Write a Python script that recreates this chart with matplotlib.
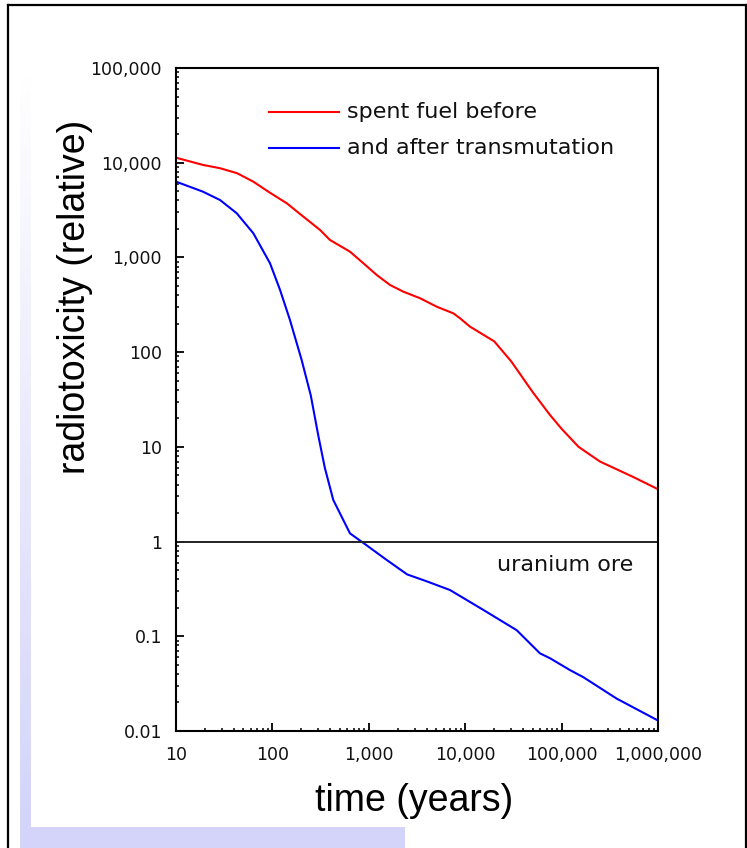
import matplotlib
matplotlib.use("Agg")
import matplotlib.pyplot as plt
import numpy as np
from matplotlib.patches import Rectangle
from matplotlib.lines import Line2D

# ---- data ----
red_t = [10, 19, 28.6, 43, 63.4, 94, 141, 209, 312, 395, 638, 877, 1207, 1660, 2280,
         3400, 5060, 7530, 8830, 11200, 20000, 30000, 50000, 75000, 100000, 150000,
         250000, 555000, 1000000]
red_v = [11300, 9480, 8750, 7750, 6310, 4830, 3730, 2700, 1950, 1530, 1150, 869, 653,
         512, 435, 371, 302, 257, 228, 186, 130, 80, 38, 22, 15.5, 10, 7.0, 4.8, 3.57]

blue_t = [10, 19, 28.6, 42.6, 63.4, 94.4, 120, 152, 201, 250, 300, 350, 428, 638,
          900, 1500, 2500, 4000, 6950, 15400, 34200, 59700, 75900, 122000, 168000,
          372000, 1000000]
blue_v = [6310, 4950, 4040, 2930, 1800, 869, 454, 219, 82.8, 35, 13, 6, 2.75, 1.22,
          0.95, 0.65, 0.45, 0.38, 0.308, 0.19, 0.116, 0.066, 0.0586, 0.044, 0.037,
          0.022, 0.0129]

x_ticks = [10, 100, 1000, 10000, 100000, 1000000]
x_labels = ["10", "100", "1,000", "10,000", "100,000", "1,000,000"]
y_ticks = [0.01, 0.1, 1, 10, 100, 1000, 10000, 100000]
y_labels = ["0.01", "0.1", "1", "10", "100", "1,000", "10,000", "100,000"]

legend_labels = ["spent fuel before", "and after transmutation"]
ore_level = 1
ore_label = "uranium ore"

W, H = 747, 848
fig = plt.figure(figsize=(W / 100, H / 100), dpi=100)

# ---- background decoration (frame + lavender strips) ----
bg = fig.add_axes([0, 0, 1, 1], zorder=-10)
bg.set_xlim(0, W)
bg.set_ylim(H, 0)
bg.axis("off")
grad = np.linspace(0, 1, 256).reshape(-1, 1)
c_top = np.array([1.0, 1.0, 1.0])
c_bot = np.array([212, 212, 250]) / 255
img = c_top[None, None, :] * (1 - grad[:, :, None]) + c_bot[None, None, :] * grad[:, :, None]
bg.imshow(img, extent=[20, 31, 827, 75], aspect="auto", interpolation="bilinear", zorder=0)
bg.add_patch(Rectangle((20, 827), 385, 30, facecolor=c_bot, edgecolor="none", zorder=0))
bg.plot([7.5, 7.5], [4.5, H + 5], color="black", lw=1.6, zorder=1)
bg.plot([7.5, W + 5], [4.5, 4.5], color="black", lw=1.6, zorder=1)
bg.plot([745.5, 745.5], [4.5, H + 5], color="black", lw=1.6, zorder=1)

# ---- main axes ----
ax = fig.add_axes([176 / W, 1 - 731 / H, (658 - 176) / W, (731 - 68) / H])
ax.set_xscale("log")
ax.set_yscale("log")
ax.set_xlim(10, 1e6)
ax.set_ylim(0.01, 1e5)

ax.plot(red_t, red_v, color="#ff0000", lw=1.5, solid_joinstyle="round")
ax.plot(blue_t, blue_v, color="#0000ff", lw=1.5, solid_joinstyle="round")
ax.axhline(ore_level, color="#222222", lw=1.4)

for s in ax.spines.values():
    s.set_linewidth(1.5)
    s.set_color("black")

ax.set_xticks(x_ticks)
ax.set_xticklabels(x_labels)
ax.set_yticks(y_ticks)
ax.set_yticklabels(y_labels)
ax.xaxis.set_minor_locator(matplotlib.ticker.LogLocator(base=10, subs=np.arange(2, 10)))
ax.yaxis.set_minor_locator(matplotlib.ticker.LogLocator(base=10, subs=np.arange(2, 10)))
ax.xaxis.set_minor_formatter(matplotlib.ticker.NullFormatter())
ax.yaxis.set_minor_formatter(matplotlib.ticker.NullFormatter())
ax.tick_params(which="major", direction="in", length=6, width=1.3,
               labelsize=12.5, top=False, right=False)
ax.tick_params(which="minor", direction="in", length=2.5, width=1.1,
               top=False, right=False)
ax.tick_params(axis="y", which="major", pad=10)
ax.tick_params(axis="x", which="major", pad=11)
for lab in ax.get_xticklabels() + ax.get_yticklabels():
    lab.set_fontfamily("DejaVu Sans")
    lab.set_color("#111111")

# legend drawn in axes coordinates
leg_y = [0.9336, 0.8793]
leg_c = ["#ff0000", "#0000ff"]
for yy, cc, lab in zip(leg_y, leg_c, legend_labels):
    ax.add_line(Line2D([0.193, 0.338], [yy, yy], transform=ax.transAxes,
                       color=cc, lw=1.5))
    ax.text(0.355, yy, lab, transform=ax.transAxes, ha="left", va="center",
            fontsize=16, family="DejaVu Sans", color="#111111")

ax.text(0.948, 0.25, ore_label, transform=ax.transAxes, ha="right", va="center",
        fontsize=16, family="DejaVu Sans", color="#111111")

fig.text(414 / W, 1 - 801 / H, "time (years)", ha="center", va="center",
         fontsize=27, family="Liberation Sans")
fig.text(75 / W, 1 - 297 / H, "radiotoxicity (relative)", ha="center", va="center",
         rotation=90, fontsize=27, family="Liberation Sans")

fig.savefig("out.png", dpi=100)
